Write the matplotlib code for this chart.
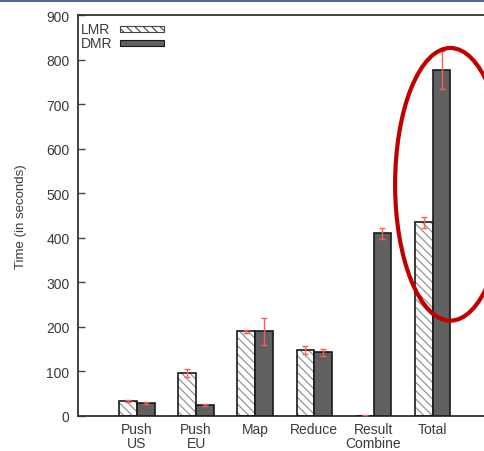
"""Time breakdown per phase, LMR vs DMR."""
import matplotlib

matplotlib.use("Agg")
import matplotlib.pyplot as plt
import numpy as np
from matplotlib.patches import Ellipse, Rectangle

plt.rcParams["font.family"] = ["Liberation Sans", "DejaVu Sans"]
plt.rcParams["hatch.linewidth"] = 0.8

categories = ["Push\nUS", "Push\nEU", "Map", "Reduce", "Result\nCombine", "Total"]
lmr = [34, 96, 190, 148, 0, 435]
lmr_err = [3, 9, 3, 8, 3, 12]
dmr = [29, 25, 190, 143, 410, 776]
dmr_err = [2, 3, 31, 8, 13, 43]
yticks = [0, 100, 200, 300, 400, 500, 600, 700, 800, 900]
series = ["LMR", "DMR"]

W, H = 485, 452
fig = plt.figure(figsize=(W / 100, H / 100), dpi=100)
ax = fig.add_axes([77.8 / W, 35 / H, 414 / W, 401 / H])

x = np.arange(1, len(categories) + 1)
bw = 0.30
text_c = "#3a3a3a"
err_c = "#ff5a5a"
hatch = "\\\\\\\\"

# LMR: hatch in grey, then black outline on top
ax.bar(x - bw / 2, lmr, bw, color="white", edgecolor="#8a8a8a",
       hatch=hatch, linewidth=0, zorder=2)
ax.bar(x - bw / 2, lmr, bw, fill=False, edgecolor="#1a1a1a",
       linewidth=1.2, zorder=3)
ax.bar(x + bw / 2, dmr, bw, color="#606060", edgecolor="#1a1a1a",
       linewidth=1.2, zorder=3)

ax.errorbar(x - bw / 2, lmr, yerr=lmr_err, fmt="none", ecolor=err_c,
            elinewidth=1, capsize=2.5, capthick=1, zorder=4)
ax.errorbar(x + bw / 2, dmr, yerr=dmr_err, fmt="none", ecolor=err_c,
            elinewidth=1, capsize=2.5, capthick=1, zorder=4)

ax.set_xlim(0, 7)
ax.set_ylim(0, 900)
ax.set_yticks(yticks)
ax.set_xticks(x)
ax.set_xticklabels(categories, fontsize=10, color=text_c, linespacing=1.0)
ax.tick_params(axis="x", length=0, pad=4)
ax.tick_params(axis="y", direction="in", length=5, width=1, color="#444444",
               labelsize=10, labelcolor=text_c, pad=6)
ax.set_ylabel("Time (in seconds)", fontsize=9.5, color=text_c, labelpad=14)

for side in ("left", "bottom", "top"):
    ax.spines[side].set_color("#333333")
    ax.spines[side].set_linewidth(1.3)
ax.spines["right"].set_visible(False)

# gnuplot-style key: label on the left, sample box on the right
key_styles = [
    dict(facecolor="white", edgecolor="#444444", hatch=hatch),
    dict(facecolor="#606060", edgecolor="#1a1a1a"),
]
for i, (name, style) in enumerate(zip(series, key_styles)):
    cy = 30 + 14 * i
    fig.text(81 / W, 1 - cy / H, name, fontsize=10, color=text_c,
             ha="left", va="center")
    fig.add_artist(Rectangle((120 / W, 1 - (cy + 3) / H), 44 / W, 6 / H,
                             transform=fig.transFigure, linewidth=0.8, **style))

# red highlight around the Total group
ax.add_patch(Ellipse((6.30, 520), 1.87, 612, fill=False, edgecolor="#c00000",
                     linewidth=3, clip_on=False, zorder=5))

# slide header strip
fig.add_artist(Rectangle((0, 1 - 3 / H), 1, 3 / H, transform=fig.transFigure,
                         facecolor="#4a6896", edgecolor="none"))

fig.savefig("out.png", dpi=100)
